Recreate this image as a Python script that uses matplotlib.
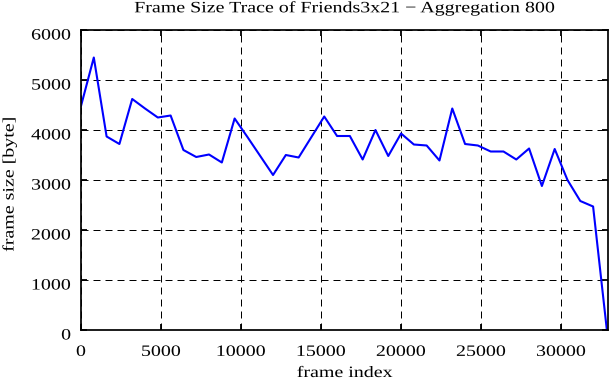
import matplotlib
matplotlib.use("Agg")
import matplotlib.pyplot as plt
from matplotlib.patheffects import AbstractPathEffect
from matplotlib.transforms import Affine2D, ScaledTranslation

# frame index (start of each 800-frame window) and aggregated frame size [byte]
frame_idx = [0, 800, 1600, 2400, 3200, 4000, 4800, 5600, 6400, 7200,
             8000, 8800, 9600, 10400, 11200, 12000, 12800, 13600, 14400, 15200,
             16000, 16800, 17600, 18400, 19200, 20000, 20800, 21600, 22400, 23200,
             24000, 24800, 25600, 26400, 27200, 28000, 28800, 29600, 30400, 31200,
             32000, 32860]
frame_size = [4480, 5450, 3870, 3720, 4620, 4430, 4250, 4290, 3600, 3460,
              3510, 3350, 4230, 3860, 3480, 3100, 3500, 3450, 3860, 4270,
              3880, 3880, 3410, 4000, 3480, 3930, 3710, 3690, 3390, 4430,
              3720, 3690, 3570, 3570, 3410, 3630, 2880, 3620, 3000, 2580,
              2470, 0]

x_ticks = [0, 5000, 10000, 15000, 20000, 25000, 30000]
y_ticks = [0, 1000, 2000, 3000, 4000, 5000, 6000]

W, H = 611, 380
FS = 11.4      # font size (pt)
SX = 1.26      # the original text is rendered wider than plain Times


class Stretch(AbstractPathEffect):
    """Widen a text path along its own direction, keeping one anchor fixed."""

    def __init__(self, sx, anchor=0.5):
        super().__init__()
        self.sx, self.anchor = sx, anchor

    def draw_path(self, renderer, gc, tpath, affine, rgbFace=None):
        ext = tpath.get_extents()
        cx = ext.x0 + self.anchor * (ext.x1 - ext.x0)
        t = Affine2D().translate(-cx, 0).scale(self.sx, 1).translate(cx, 0) + affine
        renderer.draw_path(gc, tpath, t, rgbFace)


plt.rcParams.update({"font.family": "Liberation Serif", "font.size": FS})

fig = plt.figure(figsize=(W / 100, H / 100), dpi=100)
ax = fig.add_axes([81 / W, 1 - 330 / H, 527.3 / W, 300 / H])

ax.plot(frame_idx, frame_size, color="#0000ff", lw=1.5)

ax.set_xlim(0, 32950)
ax.set_ylim(0, 6000)
ax.set_xticks(x_ticks)
ax.set_yticks(y_ticks)
ax.grid(True, color="black", ls=(0, (7, 5)), lw=0.72)
ax.tick_params(direction="in", top=True, right=True, length=4.3, width=1.3)
ax.tick_params(axis="x", pad=10)
ax.tick_params(axis="y", pad=7.2)
for s in ax.spines.values():
    s.set_linewidth(1.25)

down = ScaledTranslation(0, -3.5 / 100, fig.dpi_scale_trans)
for lbl in ax.get_xticklabels():
    lbl.set_path_effects([Stretch(SX, 0.5)])
for lbl in ax.get_yticklabels():
    lbl.set_path_effects([Stretch(SX, 1.0)])
    lbl.set_transform(lbl.get_transform() + down)

fig.text(345.5 / W, 1 - 12.3 / H, "Frame Size Trace of Friends3x21 \u2212 Aggregation 800",
         ha="center", va="baseline", path_effects=[Stretch(SX)])
fig.text(345 / W, 1 - 377 / H, "frame index", ha="center", va="baseline",
         path_effects=[Stretch(SX)])
fig.text(9.5 / W, 1 - 184 / H, "frame size [byte]", rotation=90, ha="center",
         va="center", path_effects=[Stretch(SX)])

fig.savefig("out.png", dpi=100)
